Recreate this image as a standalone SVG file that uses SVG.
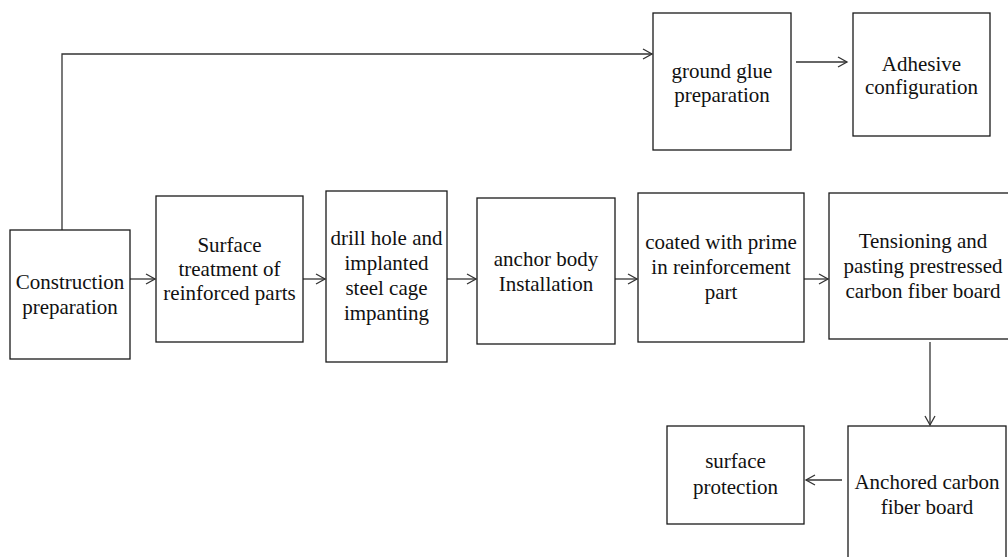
<svg xmlns="http://www.w3.org/2000/svg" width="1008" height="557" viewBox="0 0 1008 557">
<style>
.box{fill:#fff;stroke:#1a1a1a;stroke-width:1.3}
.t{font-family:'Liberation Serif','Times New Roman',serif;font-size:21px;fill:#111;text-anchor:middle}
.c{fill:none;stroke:#333;stroke-width:1.3}
</style>
<defs>
<marker id="ah" markerWidth="12" markerHeight="12" refX="10" refY="6" orient="auto" markerUnits="userSpaceOnUse">
<path d="M1,1 L10,6 L1,11" fill="none" stroke="#333" stroke-width="1.3"/>
</marker>
</defs>
<rect width="1008" height="557" fill="#fff"/>
<g id="connectors">
<path class="c" d="M62,230 V54 H652" marker-end="url(#ah)"/>
<path class="c" d="M130,279 H155" marker-end="url(#ah)"/>
<path class="c" d="M303,279 H325" marker-end="url(#ah)"/>
<path class="c" d="M447,279 H476" marker-end="url(#ah)"/>
<path class="c" d="M615,279 H637" marker-end="url(#ah)"/>
<path class="c" d="M804,279 H828" marker-end="url(#ah)"/>
<path class="c" d="M796,62 H847" marker-end="url(#ah)"/>
<path class="c" d="M930,342 V425" marker-end="url(#ah)"/>
<path class="c" d="M842,480 H806" marker-end="url(#ah)"/>
</g>
<g id="n1"><rect class="box" x="10" y="230" width="120" height="129"/>
<text class="t"><tspan x="70" y="289">Construction</tspan><tspan x="70" y="314">preparation</tspan></text></g>
<g id="n2"><rect class="box" x="156" y="196" width="147" height="146"/>
<text class="t"><tspan x="229.5" y="252">Surface</tspan><tspan x="229.5" y="276">treatment of</tspan><tspan x="229.5" y="300">reinforced parts</tspan></text></g>
<g id="n3"><rect class="box" x="326" y="191" width="121" height="171"/>
<text class="t"><tspan x="386.5" y="245">drill hole and</tspan><tspan x="386.5" y="270">implanted</tspan><tspan x="386.5" y="295">steel cage</tspan><tspan x="386.5" y="320">impanting</tspan></text></g>
<g id="n4"><rect class="box" x="477" y="198" width="138" height="146"/>
<text class="t"><tspan x="546" y="266">anchor body</tspan><tspan x="546" y="291">Installation</tspan></text></g>
<g id="n5"><rect class="box" x="638" y="193" width="166" height="149"/>
<text class="t"><tspan x="721" y="249">coated with prime</tspan><tspan x="721" y="274">in reinforcement</tspan><tspan x="721" y="299">part</tspan></text></g>
<g id="n6"><rect class="box" x="829" y="193" width="190" height="146"/>
<text class="t"><tspan x="923" y="248">Tensioning and</tspan><tspan x="923" y="273">pasting prestressed</tspan><tspan x="923" y="298">carbon fiber board</tspan></text></g>
<g id="n7"><rect class="box" x="653" y="13" width="138" height="137"/>
<text class="t"><tspan x="722" y="78">ground glue</tspan><tspan x="722" y="102">preparation</tspan></text></g>
<g id="n8"><rect class="box" x="853" y="13" width="137" height="123"/>
<text class="t"><tspan x="921.5" y="71">Adhesive</tspan><tspan x="921.5" y="94">configuration</tspan></text></g>
<g id="n9"><rect class="box" x="667" y="426" width="137" height="98"/>
<text class="t"><tspan x="735.5" y="468">surface</tspan><tspan x="735.5" y="494">protection</tspan></text></g>
<g id="n10"><rect class="box" x="848" y="426" width="158" height="140"/>
<text class="t"><tspan x="927" y="489">Anchored carbon</tspan><tspan x="927" y="514">fiber board</tspan></text></g>
</svg>
